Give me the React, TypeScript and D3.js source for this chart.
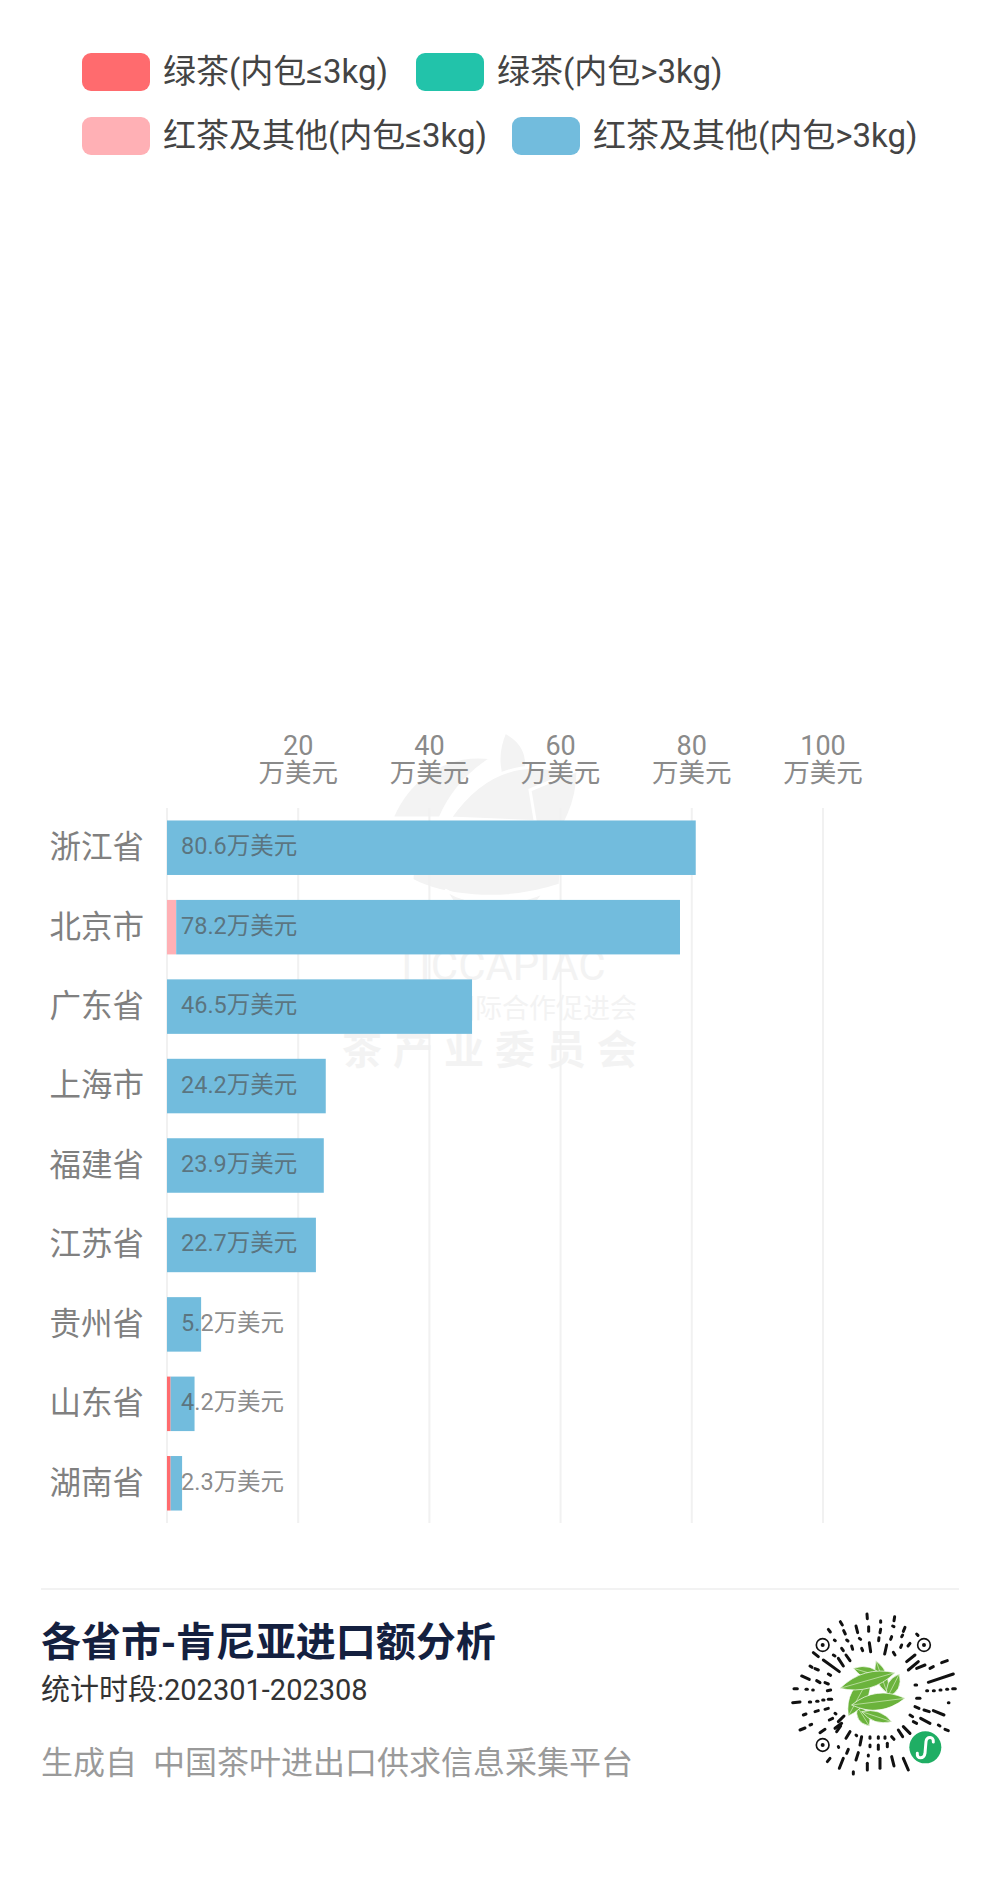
import React from "react";
import * as d3 from "d3";

const provinces = ["浙江省","北京市","广东省","上海市","福建省","江苏省","贵州省","山东省","湖南省"];
const totals = [80.6,78.2,46.5,24.2,23.9,22.7,5.2,4.2,2.3];
const greenSmall = [0,0,0,0,0,0,0,0.55,0.55];
const greenLarge = [0,0,0,0,0,0,0,0,0];
const blackSmall = [0,1.4,0,0,0,0,0,0,0];
const blackLarge = [80.6,76.8,46.5,24.2,23.9,22.7,5.2,3.65,1.75];
const axisTicks = [20,40,60,80,100];
const gridTicks = [0,20,40,60,80,100];
const unit = "万美元";
const seriesKeys = ["greenSmall","greenLarge","blackSmall","blackLarge"];
const seriesValues = { greenSmall, greenLarge, blackSmall, blackLarge };
const seriesColors = ["#ff6b6e","#22c3aa","#ffb0b5","#72bcdd"];
const legendItems = [
  { label:"绿茶(内包≤3kg)", color:0, x:82, y:53, tx:163 },
  { label:"绿茶(内包>3kg)", color:1, x:416, y:53, tx:497 },
  { label:"红茶及其他(内包≤3kg)", color:2, x:82, y:117, tx:163 },
  { label:"红茶及其他(内包>3kg)", color:3, x:512, y:117, tx:593 },
];

// Decorative QR sunburst, in a 600-unit local box
const qrDashes = [[291,72,292,86],[374,80,372,92],[211,95,217,105],[332,92,332,97],[368,108,372,110],[175,118,181,126],[221,122,226,132],[258,108,263,128],[296,110,296,124],[332,118,330,128],[405,112,400,124],[440,132,444,136],[395,140,398,135],[365,140,362,148],[327,143,326,152],[298,158,302,185],[350,165,344,192],[268,145,272,148],[230,150,234,153],[193,150,196,152],[420,160,414,168],[370,187,375,195],[395,165,392,172],[215,175,220,182],[245,168,248,178],[275,175,278,182],[130,188,145,200],[160,210,208,245],[205,205,220,228],[228,195,240,212],[190,195,195,198],[120,228,126,232],[135,236,145,240],[175,252,182,256],[95,258,118,268],[165,278,175,282],[140,272,150,278],[72,296,82,296],[108,298,112,298],[128,300,130,300],[172,302,182,300],[68,338,90,336],[118,336,122,336],[140,334,144,334],[158,330,162,330],[175,328,185,328],[100,375,108,372],[135,365,145,362],[165,358,175,355],[195,370,198,372],[90,420,105,414],[120,405,125,403],[150,428,165,418],[178,390,188,385],[205,395,222,378],[195,415,215,400],[475,277,550,252],[440,235,465,225],[480,235,490,230],[515,218,532,212],[415,240,445,215],[410,215,435,195],[435,285,440,285],[470,302,473,302],[490,302,493,302],[510,300,513,300],[530,298,533,298],[548,296,556,296],[440,325,450,325],[535,338,537,338],[435,350,447,355],[462,360,478,365],[490,362,522,375],[452,385,480,400],[505,405,510,408],[525,418,535,422],[420,375,428,380],[400,410,420,430],[385,420,398,440],[430,395,440,400],[275,440,270,465],[240,425,228,445],[212,408,200,425],[258,435,260,437],[300,440,300,445],[325,440,325,445],[345,440,345,445],[365,440,372,448],[300,465,300,470],[325,465,325,478],[352,460,352,470],[265,488,258,510],[235,478,230,490],[205,470,206,472],[180,505,172,515],[220,505,208,535],[295,495,295,498],[330,505,330,535],[365,500,372,528],[400,505,415,540],[250,545,250,552],[292,520,292,540]];
const qrFinders = [[158,165],[462,165],[158,465]];
const qrLeaves = [[318,212,352,310,34],[388,252,352,322,34],[250,235,340,262,34],[298,408,262,350,34],[365,395,275,365,30],[235,378,300,258,50],[210,295,375,248,46],[405,325,245,345,50]];

function leafPath([x1,y1,x2,y2,b]: number[]) {
  const mx=(x1+x2)/2,my=(y1+y2)/2,dx=x2-x1,dy=y2-y1,l=Math.hypot(dx,dy);
  const nx=-dy/l*b,ny=dx/l*b;
  return `M${x1},${y1}Q${mx+nx},${my+ny} ${x2},${y2}Q${mx-nx},${my-ny} ${x1},${y1}Z`;
}

const FONT = "Roboto, 'Noto Sans CJK SC', sans-serif";
const WM = "#f3f3f3";

export default function App() {
  const x = d3.scaleLinear().domain([0,100]).range([167,823]);
  const y = d3.scaleBand<string>().domain(provinces).range([808,1523]).paddingInner(0.314).paddingOuter(0.157);
  const rows = provinces.map((p,i)=>{
    const r: any = { province:p };
    seriesKeys.forEach(k=>{ r[k]=(seriesValues as any)[k][i]; });
    return r;
  });
  const stacked = d3.stack<any>().keys(seriesKeys)(rows);

  return (
    <svg width={1000} height={1897} viewBox="0 0 1000 1897"
      style={{ position:"absolute", left:0, top:0, display:"block", background:"#fff" }} fontFamily={FONT}>
      {legendItems.map(d=>(
        <g key={d.label}>
          <rect x={d.x} y={d.y} width={68} height={38} rx={9} fill={seriesColors[d.color]} />
          <text x={d.tx} y={d.y+18} dy="0.36em" fontSize={33} fill="#444">{d.label}</text>
        </g>
      ))}

      {/* watermark */}
      <g fill={WM} stroke="#fff" strokeWidth={3}>
        <path d="M392,818C410,775 450,752 492,758C470,772 452,790 440,818Z" />
        <path d="M505,732C530,745 535,770 510,800C498,775 495,755 505,732Z" />
        <path d="M450,818C480,775 520,755 575,775C565,800 555,812 545,822Z" />
        <path d="M530,790L578,770C578,800 565,835 540,850Z" />
        <path d="M412,880C440,895 500,905 560,885L565,825L415,825Z" />
        <path d="M445,890C470,905 510,908 545,892L520,925L465,920Z" />
      </g>
      <text x={500} y={965} dy="0.36em" textAnchor="middle" fontSize={42} fill={WM}>TICCAPIAC</text>
      <text x={637} y={1008} dy="0.36em" textAnchor="end" fontSize={27} fill={WM}>中国国际合作促进会</text>
      <text x={648} y={1050} dy="0.36em" textAnchor="end" fontSize={40} fontWeight={700} fill={WM} letterSpacing={11} style={{fontFamily:"'Noto Sans CJK SC'"}}>茶产业委员会</text>

      {gridTicks.map(t=>(
        <line key={t} x1={x(t)} x2={x(t)} y1={808} y2={1523} stroke="#f1f1f1" strokeWidth={2} />
      ))}

      {axisTicks.map(t=>(
        <g key={t} textAnchor="middle" fill="#8a8a8a">
          <text x={x(t)} y={745} dy="0.36em" fontSize={27}>{t}</text>
          <text x={x(t)} y={772} dy="0.36em" fontSize={26.5}>{unit}</text>
        </g>
      ))}

      {provinces.map(p=>(
        <text key={p} x={144} y={(y(p) as number)+y.bandwidth()/2-1} dy="0.36em" textAnchor="end" fontSize={31.5} fill="#808080">{p}</text>
      ))}

      {stacked.map((s,si)=>(
        <g key={s.key} fill={seriesColors[si]}>
          {s.map(d=>(d[1]-d[0]>0 &&
            <rect key={d.data.province} x={x(d[0])} y={y(d.data.province)} width={x(d[1])-x(d[0])} height={y.bandwidth()} />
          ))}
        </g>
      ))}

      {provinces.map((p,i)=>(
        <text key={p} x={181} y={(y(p) as number)+y.bandwidth()/2-2} dy="0.36em" fontSize={23.5} fill="#505050" fillOpacity={0.68}>{totals[i]}{unit}</text>
      ))}

      <line x1={41} x2={959} y1={1589} y2={1589} stroke="#eeeeee" strokeWidth={1.5} />
      <text x={41} y={1642} dy="0.36em" fontSize={40} fontWeight={700} fill="#14203f" style={{fontFamily:"'Noto Sans CJK SC'"}}>各省市-肯尼亚进口额分析</text>
      <text x={41} y={1690} dy="0.36em" fontSize={29} fill="#333">统计时段:202301-202308</text>
      <text x={41} y={1762} dy="0.36em" fontSize={32} fill="#9a9a9a" style={{whiteSpace:"pre"}}>生成自  中国茶叶进出口供求信息采集平台</text>

      <g transform="translate(770,1590) scale(0.3333)">
        <g stroke="#111" strokeWidth={9} strokeLinecap="round">
          {qrDashes.map((d,i)=><line key={i} x1={d[0]} y1={d[1]} x2={d[2]} y2={d[3]} />)}
        </g>
        {qrFinders.map((f,i)=>(
          <g key={i}>
            <circle cx={f[0]} cy={f[1]} r={19} fill="none" stroke="#111" strokeWidth={5} />
            <circle cx={f[0]} cy={f[1]} r={6} fill="#111" />
          </g>
        ))}
        {qrLeaves.map((l,i)=>(
          <g key={i}>
            <path d={leafPath(l)} fill="#6bb33c" stroke="#fff" strokeWidth={2} />
            <line x1={l[0]} y1={l[1]} x2={l[2]} y2={l[3]} stroke="#d8edc6" strokeWidth={2} />
          </g>
        ))}
        <circle cx={466} cy={472} r={48} fill="#1fae64" />
        <path d="M442,490C440,508 462,508 465,490L468,455C470,438 492,438 490,456" fill="none" stroke="#fff" strokeWidth={9} strokeLinecap="round" />
      </g>
    </svg>
  );
}
